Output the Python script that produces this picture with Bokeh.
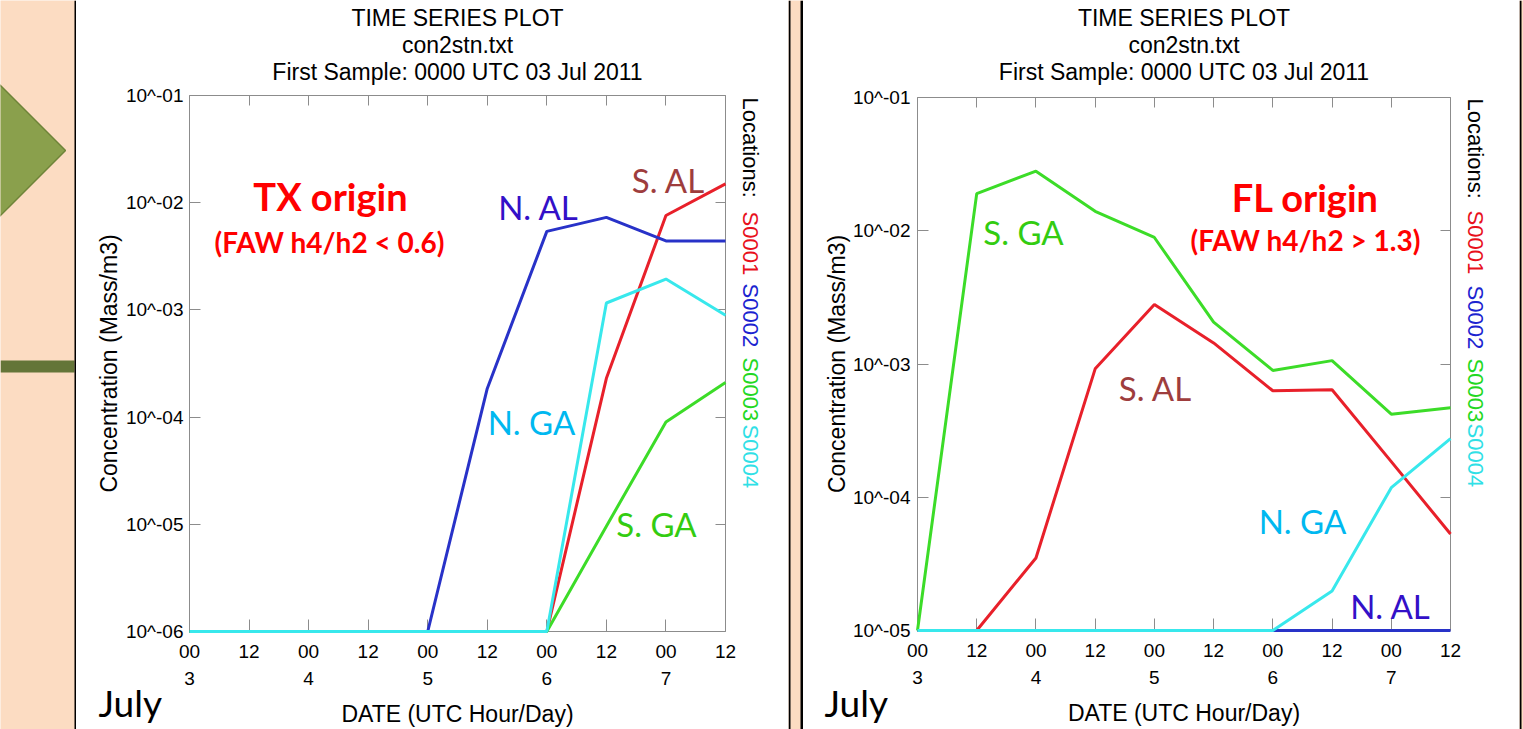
import math
from bokeh.plotting import figure
from bokeh.layouts import row
from bokeh.models import Range1d, FixedTicker, LinearAxis, LogAxis, Label, ColumnDataSource
from bokeh.embed import file_html
from bokeh.resources import INLINE

# ---------------- data ----------------
HOURS = [0, 12, 24, 36, 48, 60, 72, 84, 96, 108]
HOUR_LABELS = ["00", "12", "00", "12", "00", "12", "00", "12", "00", "12"]
DAY_LABELS = ["3", "", "4", "", "5", "", "6", "", "7", ""]
STATIONS = ["S0001", "S0002", "S0003", "S0004"]
REGIONS = ["S. AL", "N. AL", "S. GA", "N. GA"]

TX_S0001 = [1e-6, 1e-6, 1e-6, 1e-6, 1e-6, 1e-6, 1e-6, 2.3e-4, 7.6e-3, 1.5e-2]
TX_S0002 = [1e-6, 1e-6, 1e-6, 1e-6, 1e-6, 1.85e-4, 5.4e-3, 7.3e-3, 4.4e-3, 4.4e-3]
TX_S0003 = [1e-6, 1e-6, 1e-6, 1e-6, 1e-6, 1e-6, 1e-6, 9.6e-6, 9.0e-5, 2.1e-4]
TX_S0004 = [1e-6, 1e-6, 1e-6, 1e-6, 1e-6, 1e-6, 1e-6, 1.16e-3, 1.94e-3, 8.9e-4]

FL_S0001 = [1e-5, 1e-5, 3.5e-5, 9.2e-4, 2.8e-3, 1.44e-3, 6.3e-4, 6.4e-4, 1.85e-4, 5.3e-5]
FL_S0002 = [1e-5, 1e-5, 1e-5, 1e-5, 1e-5, 1e-5, 1e-5, 1e-5, 1e-5, 1e-5]
FL_S0003 = [1e-5, 1.9e-2, 2.8e-2, 1.4e-2, 8.9e-3, 2.06e-3, 8.95e-4, 1.06e-3, 4.2e-4, 4.7e-4]
FL_S0004 = [1e-5, 1e-5, 1e-5, 1e-5, 1e-5, 1e-5, 1e-5, 1.98e-5, 1.18e-4, 2.75e-4]

TX_YTICKS = [1e-6, 1e-5, 1e-4, 1e-3, 1e-2, 1e-1]
TX_YLABELS = ["10^-06", "10^-05", "10^-04", "10^-03", "10^-02", "10^-01"]
FL_YTICKS = [1e-5, 1e-4, 1e-3, 1e-2, 1e-1]
FL_YLABELS = ["10^-05", "10^-04", "10^-03", "10^-02", "10^-01"]

TITLE_LINES = ["TIME SERIES PLOT", "con2stn.txt", "First Sample: 0000 UTC 03 Jul 2011"]
X_TITLE = "DATE (UTC Hour/Day)"
Y_TITLE = "Concentration (Mass/m3)"
LEGEND_HEAD = "Locations:"
MONTH = "July"
TX_TAG = ["TX origin", "(FAW h4/h2 < 0.6)"]
FL_TAG = ["FL origin", "(FAW h4/h2 > 1.3)"]

# ---------------- styles ----------------
LINE_COLORS = ["#e8202a", "#2832c8", "#3cdc28", "#38e8ec"]
LEGEND_COLORS = ["#e8101c", "#1c24d0", "#22d822", "#30e0e6"]
REGION_COLORS = ["#9e3d3d", "#3310c8", "#33cc11", "#00b8f0"]
PEACH = "#fcdcc2"
AXIS_GREY = "#8c8c8c"
PLOT_FONT = "Liberation Sans"
SLIDE_FONT = "Lato"
CANVAS_H = 729
LATO_SHIFT = 2  # Lato's middle baseline sits a little low


def add_label(p, geom, text, X, Y, color="black", size=23, font=PLOT_FONT,
              style="normal", align="center", angle=0.0):
    x0 = geom["panel_x0"]
    if font == SLIDE_FONT:
        Y = Y - LATO_SHIFT
    p.add_layout(Label(x=X - x0, y=CANVAS_H - Y, x_units="screen", y_units="screen",
                       text=text, text_color=color, text_font_size=f"{size}px",
                       text_font=font, text_font_style=style, text_align=align,
                       text_baseline="middle", angle=angle))


def style_axis(a, tick_in):
    a.major_tick_in = tick_in
    a.major_tick_out = 0
    a.minor_tick_line_color = None
    a.axis_line_color = AXIS_GREY
    a.major_tick_line_color = AXIS_GREY
    a.major_tick_line_width = 1
    a.axis_line_width = 1
    a.level = "underlay"


def chart(series, yticks, ylabels, tags, geom):
    l, r, t, b = geom["frame"]
    x0 = geom["panel_x0"]
    W = geom["panel_w"]
    # map the data box onto the requested pixel box of this panel
    px_per_h = (r - l) / (HOURS[-1] - HOURS[0])
    xs = HOURS[0] - (l - x0) / px_per_h
    xe = HOURS[-1] + (x0 + W - r) / px_per_h
    dec_px = (b - t) / math.log10(yticks[-1] / yticks[0])
    ye = yticks[-1] * 10 ** (t / dec_px)
    ys = yticks[0] / 10 ** ((CANVAS_H - b) / dec_px)

    p = figure(width=W, height=CANVAS_H, y_axis_type="log",
               x_range=Range1d(xs, xe), y_range=Range1d(ys, ye),
               output_backend="svg", toolbar_location=None, min_border=0)
    p.background_fill_color = "white"
    p.border_fill_color = "white"
    p.outline_line_color = None
    p.grid.visible = False

    xov = {h: (f"{hl}\n{dl}" if dl else hl) for h, hl, dl in zip(HOURS, HOUR_LABELS, DAY_LABELS)}
    ax = p.xaxis[0]
    ax.fixed_location = yticks[0]
    ax.bounds = (HOURS[0], HOURS[-1])
    ax.ticker = FixedTicker(ticks=HOURS)
    ax.major_label_overrides = xov
    ax.major_label_text_font = PLOT_FONT
    ax.major_label_text_font_size = "19px"
    ax.major_label_text_color = "black"
    ax.major_label_text_line_height = 1.3
    ax.major_label_standoff = 9
    style_axis(ax, 12)
    ax.axis_label = X_TITLE
    ax.axis_label_text_font = PLOT_FONT
    ax.axis_label_text_font_size = "23px"
    ax.axis_label_text_font_style = "normal"
    ax.axis_label_text_color = "black"
    ax.axis_label_standoff = 9

    ay = p.yaxis[0]
    ay.fixed_location = HOURS[0]
    ay.bounds = (yticks[0], yticks[-1])
    ay.ticker = FixedTicker(ticks=yticks)
    ay.major_label_overrides = {v: s for v, s in zip(yticks, ylabels)}
    ay.major_label_text_font = PLOT_FONT
    ay.major_label_text_font_size = "19px"
    ay.major_label_text_color = "black"
    ay.major_label_standoff = geom["ystand"]
    style_axis(ay, 11)
    ay.axis_label = Y_TITLE
    ay.axis_label_text_font = PLOT_FONT
    ay.axis_label_text_font_size = "23px"
    ay.axis_label_text_font_style = "normal"
    ay.axis_label_text_color = "black"
    ay.axis_label_standoff = geom["ylstand"]

    top = LinearAxis(ticker=FixedTicker(ticks=HOURS), fixed_location=yticks[-1],
                     bounds=(HOURS[0], HOURS[-1]), major_label_text_color=None,
                     major_label_text_font_size="0px")
    style_axis(top, 10)
    p.add_layout(top, "above")
    right = LogAxis(ticker=FixedTicker(ticks=yticks), fixed_location=HOURS[-1],
                    bounds=(yticks[0], yticks[-1]), major_label_text_color=None,
                    major_label_text_font_size="0px")
    style_axis(right, 10)
    p.add_layout(right, "right")

    src = ColumnDataSource(dict(hours=HOURS, **{s: v for s, v in zip(STATIONS, series)}))
    for s, c in zip(STATIONS, LINE_COLORS):
        p.line("hours", s, source=src, line_width=3, line_color=c)

    # titles
    for txt, Y in zip(TITLE_LINES, geom["title_y"]):
        add_label(p, geom, txt, (l + r) / 2, Y, size=23)
    # origin tags
    (tx1, ty1), (tx2, ty2) = geom["tag_pos"]
    add_label(p, geom, tags[0], tx1, ty1, color="#ff0000", size=38, font=SLIDE_FONT, style="bold")
    add_label(p, geom, tags[1], tx2, ty2, color="#ff0000", size=28, font=SLIDE_FONT, style="bold")
    # region names
    for name, c, (X, Y) in zip(REGIONS, REGION_COLORS, geom["region_pos"]):
        add_label(p, geom, name, X, Y, color=c, size=33, font=SLIDE_FONT)
    # month
    add_label(p, geom, MONTH, geom["july"][0], geom["july"][1], size=37, font=SLIDE_FONT, align="left")
    # legend (rotated, reading downward)
    LX = geom["legend_x"]
    texts = [LEGEND_HEAD] + STATIONS
    colors = ["black"] + LEGEND_COLORS
    for txt, c, Y in zip(texts, colors, geom["legend_y"]):
        add_label(p, geom, txt, LX, Y, color=c, size=22, align="left", angle=-math.pi / 2)
    return p


def strip(width, boxes, tri=None):
    f = figure(width=width, height=CANVAS_H, x_range=Range1d(0, width), y_range=Range1d(CANVAS_H, 0),
               x_axis_location=None, y_axis_location=None, output_backend="svg",
               toolbar_location=None, min_border=0)
    f.grid.visible = False
    f.outline_line_color = None
    f.background_fill_color = PEACH
    f.border_fill_color = PEACH
    if tri is not None:
        xs, ys = tri
        f.patch(xs, ys, fill_color="#8aa04c", line_color="#6e8439", line_width=1.5)
    for (x1, x2, y1, y2, c) in boxes:
        f.quad(left=x1, right=x2, top=y1, bottom=y2, fill_color=c, line_color=None)
    return f


TX_GEOM = dict(panel_x0=76, panel_w=712, frame=(189, 725, 95, 631), ystand=6, ylstand=1,
               title_y=[17, 44, 71], tag_pos=[(330, 197), (329, 243)],
               region_pos=[(668, 181), (538, 208), (656, 525), (531, 423)],
               july=(98, 704), legend_x=750, legend_y=[97, 211, 283, 357, 424])
FL_GEOM = dict(panel_x0=803, panel_w=716, frame=(917, 1450, 97, 630), ystand=7, ylstand=0,
               title_y=[17, 44, 71], tag_pos=[(1305, 198), (1305, 241)],
               region_pos=[(1155, 389), (1390, 607), (1023, 233), (1302, 522)],
               july=(824, 704), legend_x=1475, legend_y=[98, 210, 285, 358, 423])

p1 = chart([TX_S0001, TX_S0002, TX_S0003, TX_S0004], TX_YTICKS, TX_YLABELS, TX_TAG, TX_GEOM)
p2 = chart([FL_S0001, FL_S0002, FL_S0003, FL_S0004], FL_YTICKS, FL_YLABELS, FL_TAG, FL_GEOM)

left = strip(76, [(0, 74, 360, 372, "#647538"), (74, 76, 0, CANVAS_H, "black")],
             tri=([-10, 65, -10], [75, 150, 225]))
mid = strip(15, [(0, 2, 0, CANVAS_H, "black"), (12, 15, 0, CANVAS_H, "black")])
rgt = strip(4, [(0, 2, 0, CANVAS_H, "black")])

layout = row(left, p1, mid, p2, rgt, spacing=0)
open("out.html", "w").write(file_html(layout, INLINE))
